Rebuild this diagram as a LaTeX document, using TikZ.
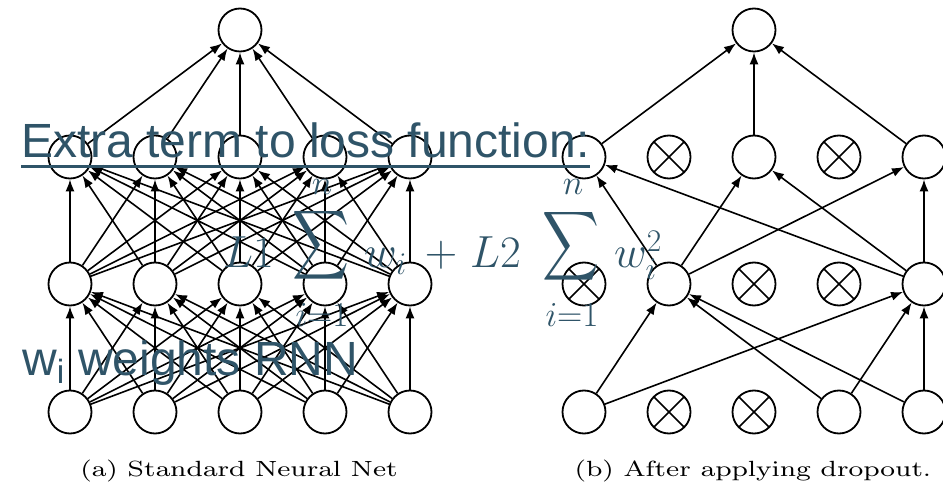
\documentclass[tikz,border=0pt]{standalone}
\usepackage{fix-cm}
\usepackage{fontspec}
\usepackage{graphicx}
\usepackage{xcolor}
\definecolor{2f5468}{HTML}{2f5468}
\newfontfamily\arialfont{Liberation Sans}
\font\policelegende=cmr8 at 22pt
\usepackage{tikz}
\usetikzlibrary{arrows.meta}

\begin{document}
\begin{tikzpicture}[x=1pt, y=-1pt,
        neurone/.style={shape=circle, draw, line width=1.8pt, minimum size=43pt, inner sep=0pt, fill=white},
        eteint/.style={neurone, path picture={\draw[line width=1.6pt] (path picture bounding box.north west) -- (path picture bounding box.south east) (path picture bounding box.north east) -- (path picture bounding box.south west);}},
        lien/.style={line width=1.6pt, -{Latex[length=12pt, width=9pt]}},
        legende/.style={anchor=base, inner sep=0pt},
        formule/.style={text=2f5468, inner sep=0pt, font=\fontsize{45}{54}\selectfont},
        borne/.style={text=2f5468, inner sep=0pt, anchor=base, font=\fontsize{35}{42}\selectfont},
        texte/.style={text=2f5468, anchor=base west, inner sep=0pt, font=\arialfont\fontsize{48}{57}\selectfont}]
    \useasboundingbox (0,0) rectangle (943,486);

    % (a) reseau complet
    \foreach \i in {1,...,5} {
        \node (ain\i) [neurone] at (-15+85*\i, 412) {};
        \node (ahb\i) [neurone] at (-15+85*\i, 284) {};
        \node (aha\i) [neurone] at (-15+85*\i, 157) {};
    }
    \node (aout) [neurone] at (240, 30) {};
    \foreach \i in {1,...,5} {
        \foreach \j in {1,...,5} {
            \draw[lien] (ain\i) -- (ahb\j);
            \draw[lien] (ahb\i) -- (aha\j);
        }
        \draw[lien] (aha\i) -- (aout);
    }
    \node (capa) [legende] at (239, 476) {\scalebox{1.26}[1]{\policelegende (a) Standard Neural Net}};

    % (b) apres dropout
    \foreach \i/\s in {1/neurone, 2/eteint, 3/eteint, 4/neurone, 5/neurone}
        \node (bin\i) [\s] at (499+85*\i, 412) {};
    \foreach \i/\s in {1/eteint, 2/neurone, 3/eteint, 4/eteint, 5/neurone}
        \node (bhb\i) [\s] at (499+85*\i, 284) {};
    \foreach \i/\s in {1/neurone, 2/eteint, 3/neurone, 4/eteint, 5/neurone}
        \node (bha\i) [\s] at (499+85*\i, 157) {};
    \node (bout) [neurone] at (754, 30) {};
    \foreach \i in {1,4,5}
        \foreach \j in {2,5}
            \draw[lien] (bin\i) -- (bhb\j);
    \foreach \i in {2,5}
        \foreach \j in {1,3,5}
            \draw[lien] (bhb\i) -- (bha\j);
    \foreach \i in {1,3,5}
        \draw[lien] (bha\i) -- (bout);
    \node (capb) [legende] at (753, 476) {\scalebox{1.26}[1]{\policelegende (b) After applying dropout.}};

    % texte par-dessus
    \node (extra) [texte, inner ysep=8pt] at (21, 158) {Extra term to loss function:};
    \draw[2f5468, line width=2.5pt] (extra.south west) -- (extra.south east);

    \node (lun) [formule, anchor=base west] at (223, 268) {$L1$};
    \node (sumun) [formule] at (321.5, 253.5) {\resizebox*{57pt}{93pt}{$\displaystyle\sum$}};
    \node (nun) [borne] at (322, 195) {$n$};
    \node (iun) [borne] at (322, 327) {$i{=}1$};
    \node (wun) [formule, anchor=base west] at (364, 268) {$w_i$};
    \node (plus) [formule] at (441, 255) {$+$};
    \node (ldeux) [formule, anchor=base west] at (470, 268) {$L2$};
    \node (sumdeux) [formule] at (571, 254) {\resizebox*{57pt}{93pt}{$\displaystyle\sum$}};
    \node (ndeux) [borne] at (573, 195) {$n$};
    \node (ideux) [borne] at (572, 327) {$i{=}1$};
    \node (wdeux) [formule, anchor=base west] at (614, 268) {$w_i^2$};

    \node (poids) [texte] at (22, 376) {w\textsubscript{i} weights RNN};
\end{tikzpicture}
\end{document}
